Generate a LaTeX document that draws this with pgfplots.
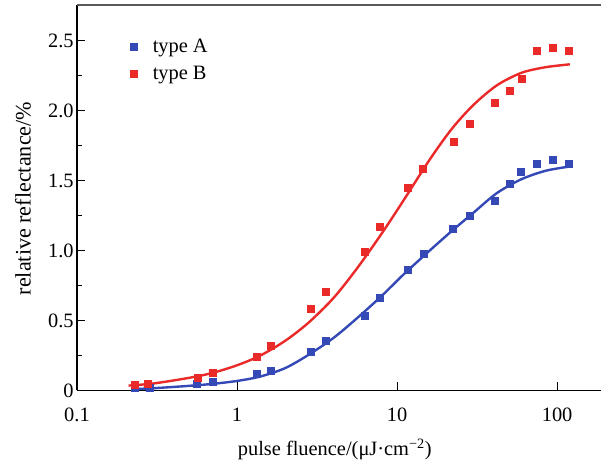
\documentclass[border=0pt]{standalone}
\usepackage{fontspec}
\setmainfont{Liberation Serif}
\usepackage{pgfplots}
\pgfplotsset{compat=1.18}
\usetikzlibrary{calc}
\definecolor{cA}{RGB}{52,72,182}
\definecolor{cB}{RGB}{234,42,40}
\newcommand{\fs}{\fontsize{15.3}{18}\selectfont}
\begin{document}
\begin{tikzpicture}
\begin{axis}[
  scale only axis,
  width=393pt, height=289.1pt,
  xmode=log, log basis x=10,
  xmin=0.1, xmax=188,
  ymin=0, ymax=2.754,
  axis lines=left,
  axis line style={-, line width=0.8pt},
  tick align=inside,
  tick style={black, line width=0.7pt},
  major tick length=6pt, minor tick length=3.4pt,
  xtick={0.1,1,10,100},
  xticklabels={0.1,1,10,100},
  ytick={0,0.5,1,1.5,2,2.5},
  yticklabels={0,0.5,1.0,1.5,2.0,2.5},
  minor ytick={0.25,0.75,1.25,1.75,2.25},
  /pgf/number format/assume math mode=true,
  tick label style={font=\fs},
  xticklabel style={yshift=-9.5pt},
  yticklabel style={xshift=1pt},
  xlabel style={font=\fs},
  ylabel style={font=\fontsize{16.6}{19}\selectfont},
  xlabel={pulse fluence/(μJ·cm\textsuperscript{\char"2212 2})},
  ylabel={relative reflectance/\%},
  xlabel style={at={(axis description cs:0.492,-0.153)}, anchor=center},
  ylabel style={at={(axis description cs:-0.103,0.498)}, anchor=center, rotate=0},
  legend style={at={(axis description cs:0.097,0.916)}, anchor=north west,
    draw=none, fill=none, font=\fs, inner sep=0pt,
    nodes={inner sep=1pt}, row sep=7pt},
  legend cell align=left,
  legend image code/.code={\path[draw=none,fill=none] (0pt,0pt) -- (17.5pt,0pt); \draw[#1] plot coordinates {(4pt,0pt)};},
  after end axis/.code={\draw[line width=1.4pt, black!65] (rel axis cs:0,1) -- (rel axis cs:1,1);},
]
% fitted curves
\addplot[cB, line width=1.8pt, smooth, forget plot] coordinates {
(0.21,0.035) (0.3,0.05) (0.5,0.09) (0.7,0.125) (1,0.18) (1.4,0.25) (2,0.355)
(2.8,0.485) (4,0.66) (5.6,0.87) (8,1.12) (11,1.36) (16,1.65) (22,1.87)
(30,2.04) (42,2.18) (60,2.27) (85,2.31) (120,2.33)};
\addplot[cA, line width=1.8pt, smooth, forget plot] coordinates {
(0.22,0.01) (0.3,0.016) (0.5,0.033) (0.7,0.047) (1,0.068) (1.4,0.10) (2,0.16)
(2.8,0.255) (4,0.375) (5.6,0.515) (8,0.675) (11,0.83) (16,1.00) (22,1.14)
(30,1.27) (42,1.41) (60,1.51) (85,1.57) (120,1.60)};
% data
\addplot[only marks, mark=square*, mark size=2.6pt, color=cA] coordinates {
(0.230,0.016) (0.285,0.020) (0.562,0.046) (0.708,0.061) (1.33,0.118)
(1.63,0.139) (2.90,0.275) (3.60,0.357) (6.31,0.532) (7.83,0.661)
(11.7,0.861) (14.7,0.975) (22.4,1.154) (28.6,1.246) (41.0,1.357)
(50.8,1.475) (59.5,1.561) (75.0,1.618) (94.4,1.646) (118.9,1.618)};
\addlegendentry{type A}
\addplot[only marks, mark=square*, mark size=2.6pt, color=cB] coordinates {
(0.230,0.039) (0.278,0.051) (0.570,0.089) (0.708,0.125) (1.33,0.239)
(1.63,0.318) (2.90,0.582) (3.60,0.704) (6.31,0.989) (7.83,1.168)
(11.7,1.446) (14.5,1.582) (22.7,1.775) (28.6,1.904) (41.0,2.054)
(50.8,2.139) (60.4,2.225) (75.0,2.425) (94.4,2.446) (118.9,2.425)};
\addlegendentry{type B}
\end{axis}
\pgfresetboundingbox
\path[use as bounding box] ([xshift=-57.75pt,yshift=-53.6pt]current axis.south west) rectangle ([yshift=3.75pt]current axis.north east);
\end{tikzpicture}
\end{document}
